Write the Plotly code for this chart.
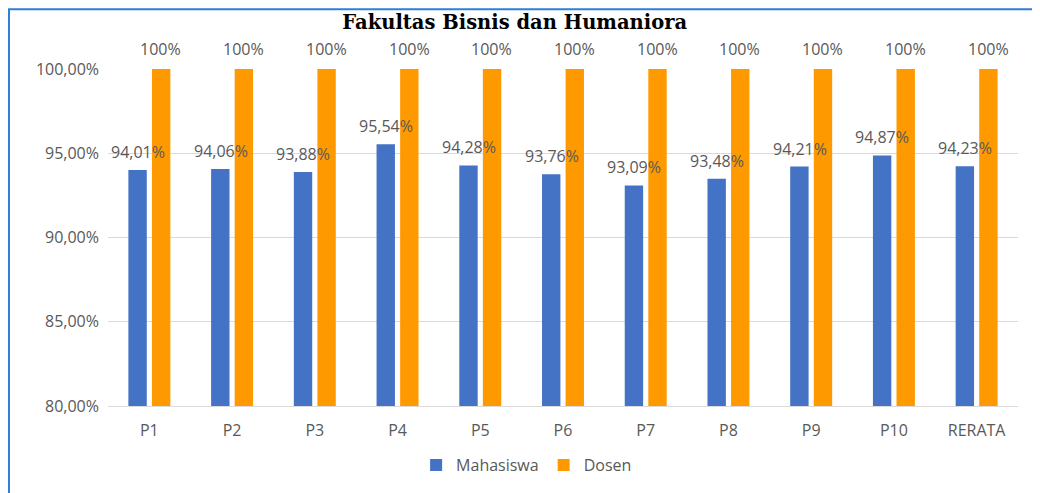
import plotly.graph_objects as go

# data
categories = ["P1", "P2", "P3", "P4", "P5", "P6", "P7", "P8", "P9", "P10", "RERATA"]
mahasiswa = [94.01, 94.06, 93.88, 95.54, 94.28, 93.76, 93.09, 93.48, 94.21, 94.87, 94.23]
dosen = [100, 100, 100, 100, 100, 100, 100, 100, 100, 100, 100]
y_ticks = [80, 85, 90, 95, 100]

grey = "#595959"
font_fam = "Open Sans, sans-serif"

fig = go.Figure()
fig.add_trace(go.Bar(x=categories, y=[v / 100 for v in mahasiswa], name="Mahasiswa",
                     marker_color="#4472C4"))
fig.add_trace(go.Bar(x=categories, y=[v / 100 for v in dosen], name="Dosen",
                     marker_color="#FF9900"))
fig.update_traces(marker_line_width=0)

# data labels as annotations so they sit on top of both bar series
labels = []
for cat, m, d in zip(categories, mahasiswa, dosen):
  labels.append(dict(x=cat, y=m / 100, text=f"{m:.2f}".replace(".", ",") + "%",
                     xshift=-11.5, yshift=18))
  labels.append(dict(x=cat, y=d / 100, text=f"{d:.0f}%", xshift=11.5, yshift=20))
for a in labels:
  a.update(showarrow=False, xref="x", yref="y", yanchor="middle", xanchor="center",
           font=dict(family=font_fam, size=16, color=grey))

fig.update_layout(
  width=1032, height=485,
  separators=",.",
  font=dict(family=font_fam, size=16, color=grey),
  paper_bgcolor="white", plot_bgcolor="white",
  margin=dict(l=100, r=22, t=61, b=86),
  barmode="group", bargap=0.43, bargroupgap=0.22,
  title=dict(text="<b>Fakultas Bisnis dan Humaniora</b>", x=0.491, xanchor="center",
             y=1 - 14 / 485, yanchor="middle",
             font=dict(family="DejaVu Serif, serif", size=19.5, color="black")),
  legend=dict(orientation="h", x=0.46, xanchor="center", y=-0.172, yanchor="middle",
              font=dict(family=font_fam, size=16, color=grey)),
  annotations=labels,
  shapes=[dict(type="rect", xref="paper", yref="paper",
               x0=(1 - 100) / 910, x1=1.2, y0=-0.5, y1=1 + 60 / 338,
               line=dict(color="#2E7FD6", width=2))],
)
fig.update_yaxes(
  range=[0.8, 1.0], tickvals=[t / 100 for t in y_ticks], tickformat=".2%",
  showgrid=True, gridcolor="#D9D9D9", zeroline=False, showline=False,
  ticks="", ticklabelstandoff=8,
)
fig.update_xaxes(showline=True, linecolor="#D9D9D9", ticks="", showgrid=False,
                 ticklabelstandoff=10)

fig.write_html("out.html")
